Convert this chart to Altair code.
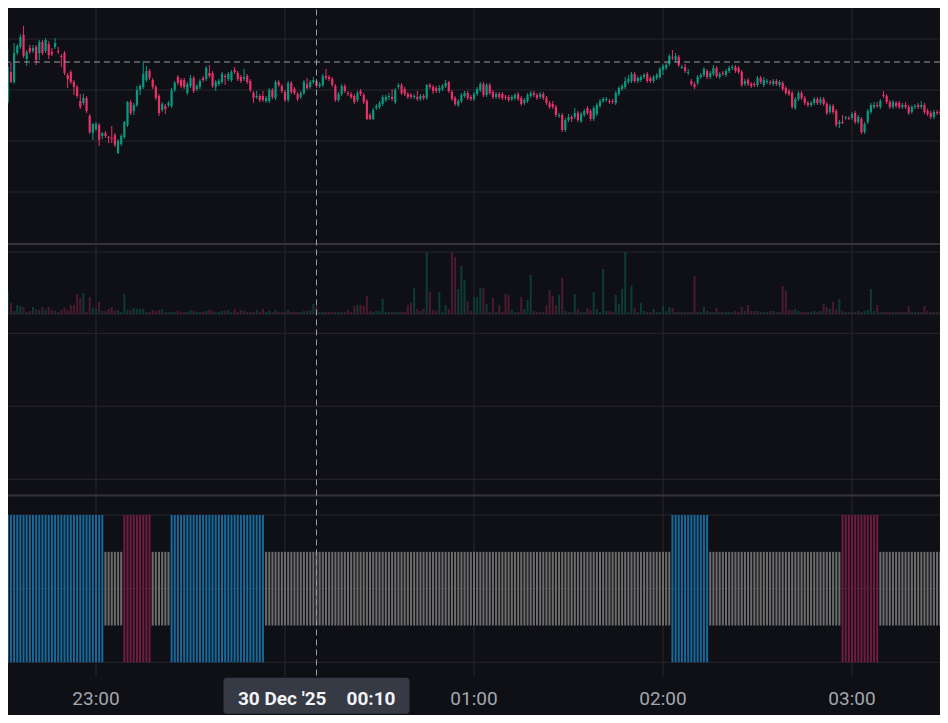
import altair as alt
import numpy as np
import pandas as pd

# ---------------- data (1-minute candles, 29/30 Dec 2025) ----------------
first_minute = 30  # minutes after 22:00 -> first candle 22:30

opens = [
    2900, 2881, 2898, 2928, 2918, 2947, 2953, 2965, 2941, 2952,
    2949, 2953, 2947, 2958, 2949, 2956, 2948, 2953, 2949, 2944,
    2947, 2925, 2928, 2918, 2913, 2899, 2897, 2902, 2884, 2867,
    2871, 2875, 2864, 2867, 2863, 2862, 2865, 2847, 2856, 2863,
    2875, 2898, 2889, 2895, 2910, 2913, 2920, 2929, 2920, 2913,
    2904, 2890, 2894, 2895, 2894, 2910, 2923, 2920, 2920, 2907,
    2914, 2922, 2911, 2913, 2922, 2921, 2927, 2927, 2913, 2916,
    2918, 2924, 2921, 2920, 2930, 2927, 2923, 2921, 2924, 2919,
    2907, 2903, 2904, 2904, 2899, 2899, 2910, 2902, 2918, 2914,
    2908, 2900, 2917, 2911, 2906, 2903, 2907, 2916, 2913, 2918,
    2919, 2914, 2915, 2924, 2923, 2921, 2914, 2900, 2906, 2914,
    2907, 2906, 2904, 2900, 2909, 2905, 2899, 2885, 2881, 2892,
    2893, 2896, 2900, 2903, 2903, 2898, 2913, 2915, 2911, 2906,
    2905, 2903, 2903, 2901, 2904, 2902, 2915, 2913, 2912, 2909,
    2911, 2914, 2918, 2908, 2902, 2895, 2899, 2904, 2907, 2903,
    2901, 2906, 2910, 2916, 2905, 2915, 2908, 2903, 2906, 2906,
    2903, 2903, 2901, 2902, 2906, 2902, 2897, 2899, 2904, 2907,
    2905, 2903, 2906, 2902, 2897, 2896, 2893, 2884, 2885, 2870,
    2880, 2883, 2883, 2887, 2879, 2885, 2892, 2889, 2881, 2886,
    2894, 2899, 2900, 2899, 2899, 2897, 2906, 2911, 2913, 2918,
    2919, 2926, 2919, 2920, 2923, 2926, 2922, 2919, 2922, 2923,
    2930, 2932, 2936, 2943, 2940, 2943, 2932, 2933, 2927, 2919,
    2916, 2917, 2923, 2925, 2929, 2923, 2926, 2932, 2923, 2927,
    2925, 2929, 2932, 2933, 2932, 2928, 2916, 2920, 2916, 2916,
    2915, 2922, 2915, 2918, 2918, 2916, 2919, 2915, 2917, 2912,
    2909, 2907, 2892, 2901, 2907, 2902, 2897, 2895, 2897, 2901,
    2897, 2901, 2896, 2888, 2894, 2889, 2876, 2878, 2882, 2882,
    2882, 2887, 2878, 2881, 2868, 2878, 2888, 2893, 2895, 2893,
    2905, 2904, 2898, 2893, 2897, 2897, 2893, 2895, 2893, 2888,
    2893, 2895, 2893, 2895, 2889, 2887, 2883, 2888, 2888, 2888, 2888,
]
highs = [
    2902, 2901, 2951, 2938, 2957, 2956, 2966, 2974, 2950, 2955,
    2955, 2955, 2960, 2960, 2962, 2959, 2952, 2962, 2953, 2946,
    2949, 2927, 2930, 2920, 2915, 2906, 2906, 2904, 2886, 2877,
    2878, 2877, 2868, 2869, 2864, 2874, 2867, 2861, 2866, 2879,
    2899, 2900, 2897, 2914, 2916, 2939, 2934, 2931, 2922, 2915,
    2906, 2898, 2896, 2899, 2912, 2919, 2925, 2922, 2922, 2918,
    2925, 2924, 2916, 2921, 2924, 2934, 2935, 2929, 2920, 2921,
    2928, 2926, 2928, 2930, 2933, 2929, 2925, 2931, 2926, 2921,
    2909, 2909, 2906, 2909, 2904, 2912, 2912, 2920, 2920, 2916,
    2910, 2919, 2919, 2913, 2908, 2909, 2920, 2922, 2920, 2923,
    2921, 2918, 2926, 2931, 2925, 2923, 2916, 2908, 2916, 2916,
    2909, 2908, 2906, 2909, 2911, 2907, 2901, 2887, 2892, 2896,
    2899, 2905, 2905, 2907, 2911, 2912, 2917, 2917, 2913, 2908,
    2907, 2906, 2909, 2906, 2906, 2916, 2917, 2915, 2914, 2915,
    2916, 2920, 2919, 2910, 2904, 2901, 2907, 2909, 2909, 2905,
    2908, 2913, 2918, 2918, 2917, 2917, 2910, 2908, 2908, 2908,
    2905, 2905, 2905, 2907, 2908, 2904, 2902, 2907, 2909, 2909,
    2907, 2908, 2908, 2904, 2899, 2899, 2895, 2887, 2887, 2882,
    2886, 2885, 2892, 2889, 2888, 2891, 2894, 2891, 2894, 2897,
    2901, 2903, 2903, 2901, 2901, 2909, 2914, 2916, 2923, 2925,
    2928, 2928, 2924, 2925, 2927, 2928, 2924, 2925, 2927, 2933,
    2936, 2937, 2946, 2950, 2947, 2945, 2935, 2936, 2931, 2921,
    2918, 2925, 2927, 2933, 2931, 2929, 2935, 2934, 2928, 2929,
    2931, 2934, 2935, 2935, 2934, 2930, 2921, 2922, 2918, 2918,
    2924, 2924, 2923, 2921, 2920, 2921, 2921, 2920, 2919, 2914,
    2911, 2909, 2903, 2909, 2909, 2904, 2899, 2899, 2903, 2903,
    2903, 2903, 2898, 2896, 2896, 2891, 2880, 2885, 2884, 2884,
    2888, 2889, 2885, 2883, 2878, 2891, 2897, 2898, 2898, 2901,
    2909, 2906, 2900, 2900, 2899, 2899, 2897, 2898, 2895, 2895,
    2896, 2897, 2899, 2897, 2891, 2889, 2890, 2890, 2890, 2891, 2893,
]
lows = [
    2875, 2879, 2896, 2917, 2916, 2945, 2951, 2942, 2934, 2946,
    2947, 2935, 2940, 2945, 2947, 2941, 2944, 2951, 2946, 2933,
    2925, 2912, 2916, 2905, 2902, 2891, 2895, 2887, 2866, 2860,
    2869, 2854, 2861, 2862, 2857, 2857, 2853, 2846, 2854, 2861,
    2873, 2885, 2885, 2893, 2905, 2911, 2918, 2920, 2911, 2900,
    2884, 2888, 2886, 2893, 2892, 2908, 2915, 2912, 2911, 2905,
    2912, 2907, 2909, 2911, 2918, 2919, 2922, 2912, 2909, 2914,
    2916, 2915, 2919, 2918, 2926, 2919, 2917, 2919, 2916, 2908,
    2897, 2901, 2898, 2898, 2897, 2897, 2901, 2900, 2913, 2907,
    2898, 2898, 2906, 2905, 2899, 2901, 2905, 2910, 2911, 2916,
    2912, 2912, 2913, 2920, 2919, 2913, 2898, 2898, 2904, 2907,
    2904, 2901, 2896, 2898, 2904, 2896, 2880, 2880, 2880, 2890,
    2891, 2894, 2898, 2900, 2899, 2896, 2911, 2905, 2904, 2901,
    2901, 2901, 2899, 2899, 2900, 2900, 2911, 2906, 2907, 2907,
    2909, 2912, 2907, 2899, 2894, 2893, 2897, 2902, 2900, 2899,
    2899, 2904, 2908, 2903, 2903, 2905, 2901, 2901, 2901, 2900,
    2900, 2898, 2899, 2900, 2899, 2894, 2895, 2897, 2902, 2903,
    2900, 2901, 2900, 2895, 2891, 2891, 2883, 2882, 2868, 2868,
    2878, 2878, 2881, 2878, 2877, 2883, 2885, 2879, 2879, 2884,
    2892, 2897, 2898, 2896, 2896, 2895, 2904, 2909, 2911, 2916,
    2917, 2917, 2917, 2918, 2921, 2917, 2917, 2917, 2920, 2921,
    2925, 2930, 2934, 2940, 2938, 2933, 2931, 2927, 2925, 2914,
    2911, 2915, 2921, 2923, 2921, 2921, 2924, 2922, 2921, 2924,
    2923, 2927, 2930, 2927, 2926, 2913, 2914, 2914, 2912, 2913,
    2913, 2916, 2913, 2916, 2915, 2914, 2914, 2913, 2909, 2905,
    2904, 2891, 2890, 2899, 2900, 2895, 2893, 2893, 2895, 2895,
    2895, 2894, 2885, 2886, 2886, 2873, 2872, 2876, 2880, 2880,
    2880, 2876, 2876, 2866, 2866, 2876, 2886, 2891, 2892, 2891,
    2902, 2896, 2891, 2891, 2892, 2891, 2891, 2891, 2885, 2886,
    2891, 2891, 2891, 2886, 2884, 2881, 2881, 2885, 2885, 2886, 2886,
]
closes = [
    2876, 2899, 2933, 2918, 2947, 2954, 2963, 2944, 2948, 2948,
    2952, 2940, 2958, 2947, 2960, 2945, 2946, 2957, 2948, 2943,
    2927, 2921, 2918, 2913, 2904, 2893, 2902, 2889, 2868, 2876,
    2876, 2860, 2867, 2864, 2862, 2861, 2855, 2859, 2864, 2878,
    2898, 2887, 2895, 2910, 2914, 2926, 2929, 2922, 2913, 2902,
    2887, 2896, 2891, 2897, 2910, 2917, 2917, 2914, 2913, 2916,
    2922, 2909, 2914, 2919, 2920, 2932, 2924, 2914, 2918, 2919,
    2926, 2923, 2926, 2928, 2928, 2921, 2919, 2923, 2918, 2910,
    2902, 2904, 2900, 2900, 2902, 2910, 2903, 2918, 2915, 2909,
    2900, 2917, 2908, 2907, 2901, 2907, 2918, 2912, 2918, 2920,
    2914, 2916, 2924, 2922, 2921, 2915, 2900, 2906, 2914, 2909,
    2906, 2903, 2898, 2907, 2906, 2898, 2881, 2881, 2890, 2894,
    2897, 2903, 2903, 2904, 2901, 2910, 2915, 2907, 2906, 2903,
    2903, 2904, 2901, 2904, 2902, 2915, 2913, 2909, 2909, 2912,
    2914, 2917, 2909, 2901, 2896, 2899, 2905, 2907, 2902, 2901,
    2906, 2911, 2916, 2905, 2915, 2907, 2903, 2906, 2903, 2902,
    2902, 2900, 2903, 2905, 2901, 2896, 2900, 2905, 2907, 2905,
    2902, 2906, 2902, 2897, 2893, 2893, 2885, 2885, 2870, 2880,
    2883, 2881, 2887, 2880, 2886, 2889, 2887, 2881, 2892, 2895,
    2899, 2901, 2901, 2898, 2898, 2907, 2912, 2914, 2919, 2921,
    2926, 2919, 2922, 2923, 2925, 2919, 2919, 2923, 2925, 2931,
    2934, 2935, 2944, 2942, 2944, 2935, 2933, 2929, 2928, 2916,
    2913, 2923, 2925, 2931, 2923, 2927, 2932, 2924, 2926, 2926,
    2929, 2932, 2933, 2929, 2928, 2915, 2919, 2916, 2914, 2915,
    2922, 2918, 2920, 2919, 2917, 2919, 2916, 2918, 2911, 2907,
    2906, 2893, 2901, 2907, 2902, 2897, 2895, 2897, 2901, 2897,
    2901, 2896, 2887, 2894, 2888, 2875, 2878, 2877, 2883, 2881,
    2886, 2878, 2883, 2868, 2876, 2889, 2895, 2895, 2894, 2899,
    2904, 2898, 2893, 2898, 2894, 2893, 2895, 2893, 2887, 2893,
    2894, 2893, 2895, 2888, 2886, 2883, 2888, 2887, 2887, 2889, 2891,
]
volumes = [
    6, 10, 22, 11, 3, 9, 8, 7, 2, 3,
    7, 5, 4, 7, 4, 7, 4, 3, 2, 4,
    6, 4, 9, 9, 20, 16, 21, 2, 17, 6,
    5, 12, 3, 3, 5, 7, 3, 4, 2, 20,
    4, 4, 6, 5, 5, 5, 2, 2, 4, 3,
    4, 5, 2, 2, 2, 2, 3, 2, 2, 2,
    4, 3, 2, 2, 2, 3, 4, 3, 2, 2,
    3, 3, 4, 2, 5, 2, 4, 3, 2, 2,
    2, 4, 2, 5, 2, 3, 2, 4, 2, 2,
    2, 4, 2, 2, 2, 2, 3, 3, 4, 10,
    8, 2, 2, 2, 2, 2, 2, 2, 2, 2,
    4, 2, 8, 9, 9, 8, 18, 3, 2, 3,
    3, 15, 2, 2, 2, 2, 2, 2, 2, 9,
    11, 26, 5, 3, 5, 62, 22, 4, 3, 22,
    2, 9, 5, 62, 57, 25, 48, 34, 13, 3,
    17, 17, 26, 26, 10, 2, 16, 2, 9, 2,
    20, 19, 4, 2, 2, 17, 5, 14, 39, 3,
    2, 2, 2, 9, 24, 18, 9, 19, 36, 3,
    2, 2, 20, 5, 2, 2, 6, 4, 22, 5,
    2, 45, 3, 3, 2, 19, 10, 25, 62, 2,
    28, 6, 2, 11, 3, 2, 2, 5, 2, 2,
    8, 3, 7, 6, 2, 2, 2, 2, 2, 2,
    38, 2, 2, 7, 3, 2, 2, 6, 2, 2,
    2, 2, 2, 3, 2, 7, 3, 9, 3, 3,
    3, 2, 2, 2, 3, 3, 2, 2, 28, 23,
    4, 4, 5, 3, 2, 2, 2, 2, 3, 2,
    3, 10, 7, 5, 12, 5, 15, 3, 2, 2,
    2, 2, 3, 2, 3, 4, 25, 3, 9, 2,
    2, 2, 2, 2, 2, 2, 2, 2, 8, 2,
    2, 2, 2, 8, 3, 2, 2, 2, 2, 2, 2,
]
# trend-state indicator, as runs of (state, number of candles)
trend_runs = [("up", 33), ("flat", 6), ("down", 9), ("flat", 6), ("up", 30),
              ("flat", 129), ("up", 12), ("flat", 42), ("down", 12),
              ("flat", 21), ("down", 1)]

hour_ticks = [60, 120, 180, 240, 300]          # hourly grid (23:00 .. 03:00)
label_ticks = [60, 180, 240, 300]              # 00:00 is covered by the crosshair label
tick_labels = ["23:00", "01:00", "02:00", "03:00"]
price_grid = [2961, 2910, 2859, 2808]
volume_grid = [0, 62]
osc_grid = [1, 0, -1]
trend_grid = [1, 0, -1]
crosshair_minute = 130
crosshair_price = 2938
crosshair_date = "30 Dec '25"
crosshair_time = "00:10"

# ---------------- styling ----------------
BG = "#0f1015"
GRID = "#27262d"
SEP = "#34323b"
UP = "#089981"
DOWN = "#e8306a"
VOL_UP = "#0d3b36"
VOL_DOWN = "#4a1b2f"
TREND_COL = {"up": "#16699a", "down": "#6e1c42", "flat": "#6c6c6c"}
TREND_HALF = {"up": 1.0, "down": 1.0, "flat": 0.5}
AXIS_TXT = "#a3a6ad"
CROSS = "#9a9ca3"
FONT = "Roboto"

# ---------------- frames ----------------
n = len(closes)
states = []
for s, k in trend_runs:
    states += [s] * k

df = pd.DataFrame({
    "t": [first_minute + i for i in range(n)],
    "open": opens, "high": highs, "low": lows, "close": closes,
    "vol": volumes, "trend": states,
})
df["up"] = df["close"] >= df["open"]
df["color"] = np.where(df["up"], UP, DOWN)
df["vcolor"] = np.where(df["up"], VOL_UP, VOL_DOWN)
df["btop"] = df[["open", "close"]].max(axis=1)
df["bbot"] = df[["open", "close"]].min(axis=1)
df["tcolor"] = df["trend"].map(TREND_COL)
df["thi"] = df["trend"].map(TREND_HALF)
df["tlo"] = -df["thi"]
df["v0"] = 0

# visible time window (minutes after 22:00)
x_domain = [32.063, 327.937]
X = alt.X("t:Q", scale=alt.Scale(domain=x_domain, nice=False, zero=False, padding=0), axis=None)


def ysc(dom, rng):
    return alt.Scale(domain=dom, range=rng, nice=False, zero=False, padding=0)


PRICE = ysc([2756, 3000], [236, -8])
VOL = ysc([0, 62], [306, 244])
OSC = ysc([-1, 1], [471.3, 325.3])
TREND = ysc([-1, 1], [654.3, 507])

layers = []

# horizontal grids
layers.append(alt.Chart(pd.DataFrame({"p": price_grid})).mark_rule(color=GRID, strokeWidth=1)
              .encode(y=alt.Y("p:Q", scale=PRICE, axis=None)))
layers.append(alt.Chart(pd.DataFrame({"v": volume_grid})).mark_rule(color=GRID, strokeWidth=1)
              .encode(y=alt.Y("v:Q", scale=VOL, axis=None)))
layers.append(alt.Chart(pd.DataFrame({"o": osc_grid})).mark_rule(color=GRID, strokeWidth=1)
              .encode(y=alt.Y("o:Q", scale=OSC, axis=None)))
layers.append(alt.Chart(pd.DataFrame({"g": trend_grid})).mark_rule(color=GRID, strokeWidth=1)
              .encode(y=alt.Y("g:Q", scale=TREND, axis=None)))

# vertical hour grid
hours = pd.DataFrame({"t": hour_ticks, "top": 8.0, "bot": -1.2})
layers.append(alt.Chart(hours).mark_rule(color=GRID, strokeWidth=1)
              .encode(x=X, y=alt.Y("top:Q", scale=TREND, axis=None), y2="bot:Q"))

# pane separators
layers.append(alt.Chart(pd.DataFrame({"p": [2756]})).mark_rule(color=SEP, strokeWidth=2)
              .encode(y=alt.Y("p:Q", scale=PRICE, axis=None)))
layers.append(alt.Chart(pd.DataFrame({"g": [1.265]})).mark_rule(color=SEP, strokeWidth=2)
              .encode(y=alt.Y("g:Q", scale=TREND, axis=None)))

# trend indicator bars
layers.append(alt.Chart(df).mark_bar(width=2)
              .encode(x=X, y=alt.Y("thi:Q", scale=TREND, axis=None), y2="tlo:Q",
                      color=alt.Color("tcolor:N", scale=None)))

# volume bars
layers.append(alt.Chart(df).mark_bar(width=2)
              .encode(x=X, y=alt.Y("vol:Q", scale=VOL, axis=None), y2="v0:Q",
                      color=alt.Color("vcolor:N", scale=None)))

# candles: wicks and bodies
layers.append(alt.Chart(df).mark_rule(strokeWidth=1)
              .encode(x=X, y=alt.Y("high:Q", scale=PRICE, axis=None), y2="low:Q",
                      color=alt.Color("color:N", scale=None)))
layers.append(alt.Chart(df).mark_bar(width=2.2)
              .encode(x=X, y=alt.Y("btop:Q", scale=PRICE, axis=None), y2="bbot:Q",
                      color=alt.Color("color:N", scale=None)))

# crosshair
cross = pd.DataFrame({"t": [crosshair_minute], "p": [crosshair_price], "top": [8.0], "bot": [-1.21],
                      "b1": [-1.21], "b2": [-1.70], "ly": [-1.5],
                      "date": [crosshair_date], "time": [crosshair_time]})
layers.append(alt.Chart(cross).mark_rule(color=CROSS, strokeWidth=1, strokeDash=[6, 4])
              .encode(y=alt.Y("p:Q", scale=PRICE, axis=None)))
layers.append(alt.Chart(cross).mark_rule(color=CROSS, strokeWidth=1, strokeDash=[6, 4])
              .encode(x=X, y=alt.Y("top:Q", scale=TREND, axis=None), y2="bot:Q"))

# time axis labels
labels = pd.DataFrame({"t": label_ticks, "label": tick_labels, "ly": -1.5})
layers.append(alt.Chart(labels).mark_text(font=FONT, fontSize=19, color=AXIS_TXT, baseline="middle", align="center")
              .encode(x=X, y=alt.Y("ly:Q", scale=TREND, axis=None), text="label:N"))

# crosshair time label
layers.append(alt.Chart(cross).mark_bar(width=186, color="#363a45", cornerRadius=3)
              .encode(x=X, y=alt.Y("b1:Q", scale=TREND, axis=None), y2="b2:Q"))
layers.append(alt.Chart(cross).mark_text(font=FONT, fontSize=19, fontWeight="bold", color="#f2f3f5",
                                         baseline="middle", align="right", dx=10)
              .encode(x=X, y=alt.Y("ly:Q", scale=TREND, axis=None), text="date:N"))
layers.append(alt.Chart(cross).mark_text(font=FONT, fontSize=19, fontWeight="bold", color="#f2f3f5",
                                         baseline="middle", align="left", dx=30)
              .encode(x=X, y=alt.Y("ly:Q", scale=TREND, axis=None), text="time:N"))

chart = (alt.layer(*layers)
         .resolve_scale(y="independent")
         .properties(width=932, height=707, padding=0,
                     autosize=alt.AutoSizeParams(type="none"), background=BG)
         .configure_view(stroke=None))

chart.save("out.html", embed_options={"renderer": "svg", "actions": False})
